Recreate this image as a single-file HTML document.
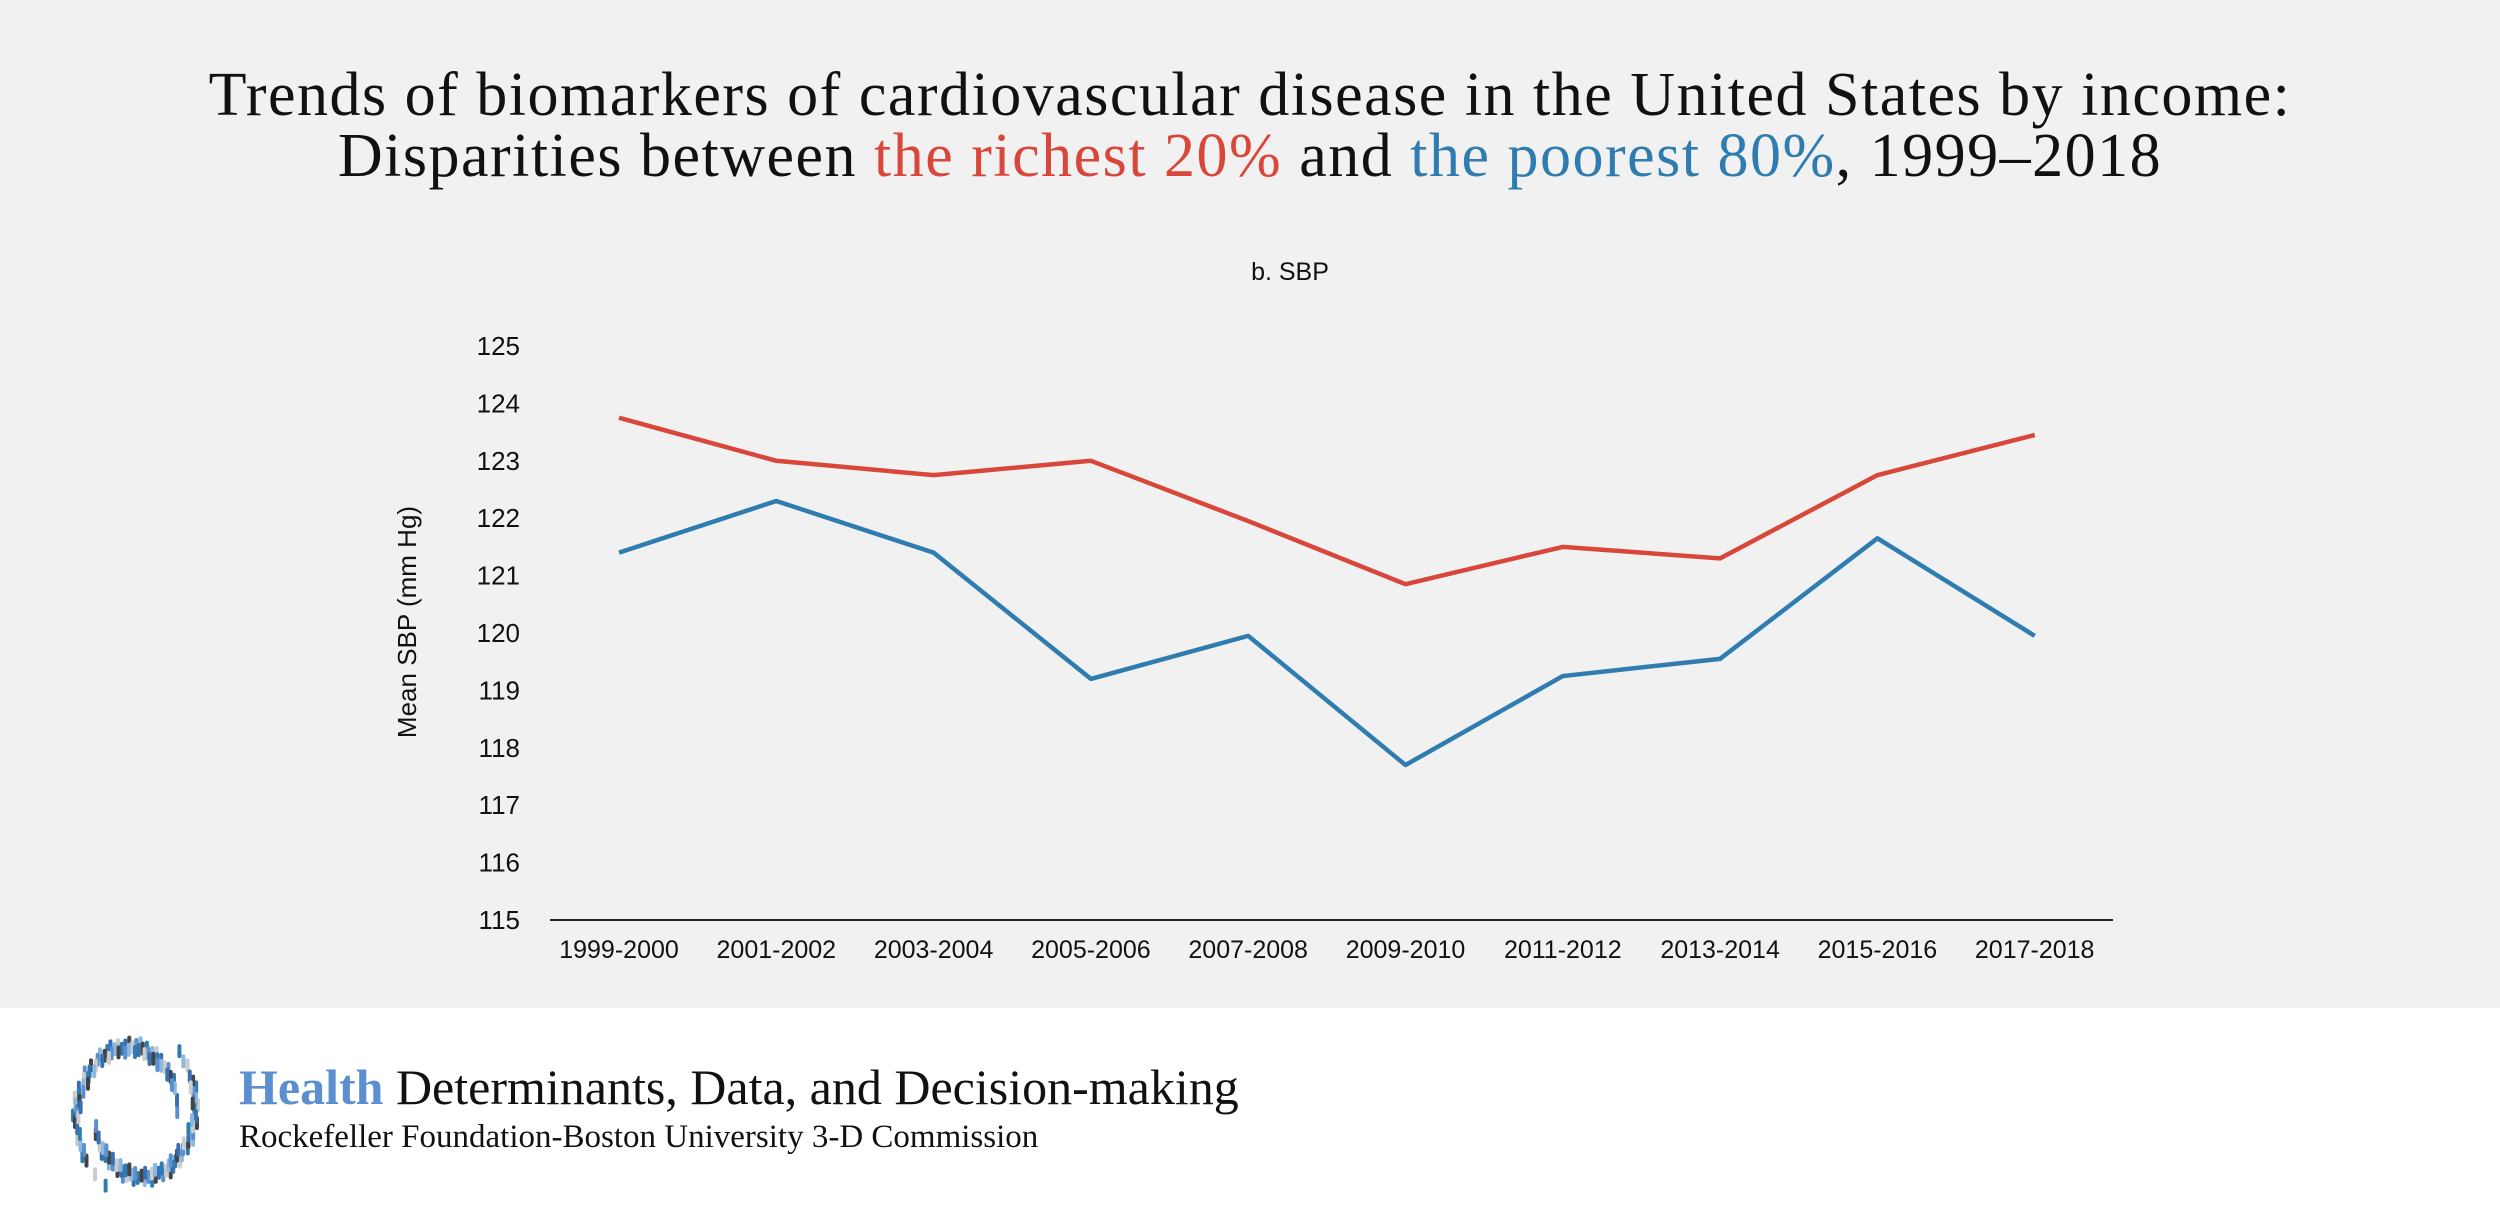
<!DOCTYPE html>
<html><head><meta charset="utf-8"><style>
html,body{margin:0;padding:0;width:2500px;height:1216px;overflow:hidden;background:#fff}
#bg{position:absolute;left:0;top:0;width:2500px;height:1008px;background:#f1f1f1}
.t{position:absolute;left:0;width:2500px;text-align:center;font-family:"Liberation Serif",serif;font-size:62px;letter-spacing:1.5px;color:#111;white-space:nowrap}
</style></head><body>
<div id="bg"></div>
<div class="t" style="top:60px">Trends of biomarkers of cardiovascular disease in the United States by income:</div>
<div class="t" style="top:121px">Disparities between <span style="color:#d9473a">the richest 20%</span> and <span style="color:#2f7cb0">the poorest 80%</span>, 1999–2018</div>
<svg id="chart" width="2500" height="1216" style="position:absolute;left:0;top:0"></svg>
<div style="position:absolute;left:0;top:1008px;width:2500px;height:208px">
<svg width="240" height="208" style="position:absolute;left:30px;top:0">
<g id="logo"></g></svg>
<div style="position:absolute;left:239px;top:50px;font-family:'Liberation Serif',serif;font-size:50px;color:#111;white-space:nowrap"><b style="color:#5b8fd0">Health</b> Determinants, Data, and Decision-making</div>
<div style="position:absolute;left:239px;top:111px;font-family:'Liberation Serif',serif;font-size:33px;color:#111;white-space:nowrap">Rockefeller Foundation-Boston University 3-D Commission</div>
</div>
<script>
const categories=["1999-2000","2001-2002","2003-2004","2005-2006","2007-2008","2009-2010","2011-2012","2013-2014","2015-2016","2017-2018"];
const richest=[123.75,123.0,122.75,123.0,121.95,120.85,121.5,121.3,122.75,123.45];
const poorest=[121.4,122.3,121.4,119.2,119.95,117.7,119.25,119.55,121.65,119.95];
const yTicks=[115,116,117,118,119,120,121,122,123,124,125];
const NS="http://www.w3.org/2000/svg";
const svg=document.getElementById('chart');
const x0=550,x1=2113,yb=920,yt=346;
const xs=i=>619+i*157.3;
const ys=v=>yb-(v-115)/(125-115)*(yb-yt);
function mk(t,a){const e=document.createElementNS(NS,t);for(const k in a)e.setAttribute(k,a[k]);svg.appendChild(e);return e;}
const st=mk('text',{x:1290,y:280,'text-anchor':'middle','font-family':'Liberation Sans, sans-serif','font-size':25,fill:'#111'});st.textContent='b. SBP';


yTicks.forEach(v=>{const t=mk('text',{x:520,y:ys(v)+9,'text-anchor':'end','font-family':'Liberation Sans, sans-serif','font-size':26,fill:'#111'});t.textContent=v;

});
const yt2=mk('text',{x:0,y:0,transform:'translate(416,622) rotate(-90)','text-anchor':'middle','font-family':'Liberation Sans, sans-serif','font-size':26,fill:'#111'});yt2.textContent='Mean SBP (mm Hg)';


const ax=mk('line',{x1:x0,x2:x1,y1:yb,y2:yb,stroke:'#222','stroke-width':2});


categories.forEach((c,i)=>{const t=mk('text',{x:xs(i),y:958,'text-anchor':'middle','font-family':'Liberation Sans, sans-serif','font-size':25,fill:'#111'});t.textContent=c;

});
function line(d,col,name){const p=mk('polyline',{points:d.map((v,i)=>xs(i)+','+ys(v)).join(' '),fill:'none',stroke:col,'stroke-width':4.5,'stroke-linejoin':'round'});

}
line(richest,'#d9473a','richest-20-line');
line(poorest,'#2f7cb0','poorest-80-line');
const g=document.getElementById('logo');const cols=['#5b8fd0','#3a6fb0','#8bb8e0','#444','#ccc','#2f7cb0'];
for(let i=0;i<140;i++){const a=i*2.4,r=55+((i*37)%30);const cx=106+Math.cos(a)*r*0.75,cy=104+Math.sin(a)*r;
const c=document.createElementNS(NS,'rect');c.setAttribute('x',cx-2);c.setAttribute('y',cy-7);c.setAttribute('width',4);c.setAttribute('height',14);c.setAttribute('rx',2);c.setAttribute('fill',cols[i%6]);g.appendChild(c);}
</script>
</body></html>
